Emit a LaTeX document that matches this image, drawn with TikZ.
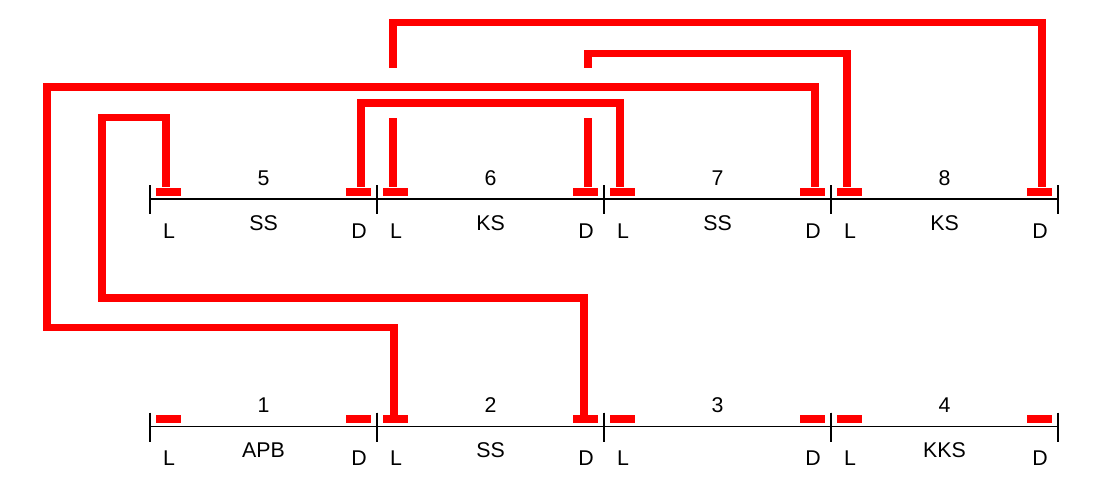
\documentclass[tikz,border=0pt]{standalone}
\usepackage{fontspec}
\setmainfont{Liberation Sans}
\usepackage{tikz}

\begin{document}
\begin{tikzpicture}[
    x=0.75pt, y=-0.75pt,
    every node/.style={font=\fontsize{16}{18}\selectfont, inner sep=0pt},
    pad/.style={fill=red, minimum width=18.75pt, minimum height=6pt},
    rail/.style={line width=1.1pt},
    wire/.style={draw=red, line width=5.6pt}
]
\useasboundingbox (0,0) rectangle (1116,494);

\foreach \n/\name/\x/\y in {1/APB/150/426.5, 2/SS/377/426.5, 3/{}/604/426.5, 4/KKS/831/426.5,
                            5/SS/150/199, 6/KS/377/199, 7/SS/604/199, 8/KS/831/199} {
    \draw[rail] (\x,\y-14) -- (\x,\y+15) (\x,\y) -- (\x+227,\y) (\x+227,\y-14) -- (\x+227,\y+15);
    \node[pad] (p\n L) at (\x+18.5,\y-7.5) {};
    \node[pad] (p\n D) at (\x+208.5,\y-7.5) {};
    \node (n\n) at (\x+113.5,\y-21) {\n};
    \node (t\n) at (\x+113.5,\y+24) {\name};
    \node (l\n) at (\x+19,\y+32) {L};
    \node (d\n) at (\x+209,\y+32) {D};
}

\draw[wire] ([xshift=-2pt]p5L.north) |- (102,117.5) -- (102,298) -| ([xshift=-1pt]p2D.north);
\draw[wire] ([xshift=2pt]p7D.north) |- (47,87) -- (47,327.5) -| ([xshift=-1pt]p2L.north);
\draw[wire] ([xshift=2pt]p5D.north) |- (500,103) -| ([xshift=-2pt]p7L.north);

\draw[wire] ([xshift=-2pt]p6L.north) -- ++(0,-69.5);
\draw[wire] ([xshift=-2pt]p6L.north) ++(0,-119.5) |- (700,22.5) -| ([xshift=2pt]p8D.north);
\draw[wire] ([xshift=2pt]p6D.north) -- ++(0,-69.5);
\draw[wire] ([xshift=2pt]p6D.north) ++(0,-119.5) |- (700,53.5) -| ([xshift=-2pt]p8L.north);

\end{tikzpicture}
\end{document}
